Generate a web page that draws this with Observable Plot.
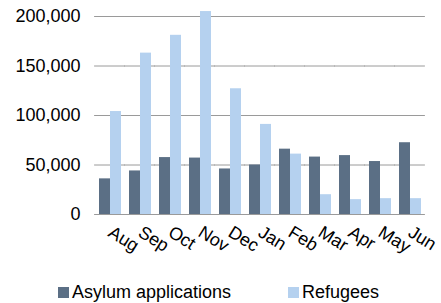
<!DOCTYPE html>
<html>
<head>
<meta charset="utf-8">
<script src="https://cdn.jsdelivr.net/npm/d3@7"></script>
<script src="https://cdn.jsdelivr.net/npm/@observablehq/plot@0.6"></script>
<style>
  body { margin: 0; background: #fff; font-family: "Liberation Sans", Arial, sans-serif; }
  #chart svg { display: block; }
  #legend { position: relative; height: 33px; font-size: 18px; line-height: 21px; color: #000; }
  .item { position: absolute; top: 12px; display: flex; align-items: center; white-space: nowrap; }
  .sw { width: 11px; height: 11px; margin-right: 3px; }
</style>
</head>
<body>
<div id="chart"></div>
<div id="legend"></div>
<script>
const months = ["Aug","Sep","Oct","Nov","Dec","Jan","Feb","Mar","Apr","May","Jun"];
const series = ["Asylum applications", "Refugees"];
const asylum = [36000, 44000, 57500, 57000, 46000, 50000, 66000, 58000, 59500, 53500, 72500];
const refugees = [104000, 163000, 181000, 205000, 127000, 91000, 61000, 20000, 15000, 16000, 16000];
const yTicks = [0, 50000, 100000, 150000, 200000];
const colors = ["#5b6f85", "#b5d1ef"];

const data = [];
months.forEach((m, i) => {
  data.push({month: m, series: series[0], value: asylum[i]});
  data.push({month: m, series: series[1], value: refugees[i]});
});
const grid = [];
months.forEach(m => yTicks.forEach(v => grid.push({month: m, value: v})));

const chart = Plot.plot({
  width: 441,
  height: 270,
  marginLeft: 91,
  marginRight: 13,
  marginTop: 16,
  marginBottom: 56,
  style: {fontFamily: "'Liberation Sans', Arial, sans-serif", fontSize: "18px", color: "#000", background: "#fff", overflow: "visible"},
  fx: {domain: months, axis: "bottom", paddingInner: 0.25, paddingOuter: 0.125, label: null, tickRotate: 32, tickSize: 0, tickPadding: 16},
  x: {domain: series, axis: null, padding: 0},
  y: {domain: [0, 200000], ticks: yTicks, tickFormat: d3.format(","), tickSize: 0, tickPadding: 18, label: null},
  color: {domain: series, range: colors},
  marks: [
    Plot.ruleY(grid, {fx: "month", y: "value", stroke: "#9a9a9a", strokeWidth: 1, insetLeft: -3.9, insetRight: -3.9}),
    Plot.barY(data, {fx: "month", x: "series", y: "value", fill: "series"})
  ]
});
document.getElementById("chart").appendChild(chart);

const legend = document.getElementById("legend");
const lx = [58, 288];
series.forEach((s, i) => {
  const it = document.createElement("div");
  it.className = "item";
  it.style.left = lx[i] + "px";
  const sw = document.createElement("span");
  sw.className = "sw";
  sw.style.background = colors[i];
  const t = document.createElement("span");
  t.textContent = s;
  it.appendChild(sw);
  it.appendChild(t);
  legend.appendChild(it);
});
</script>
</body>
</html>
